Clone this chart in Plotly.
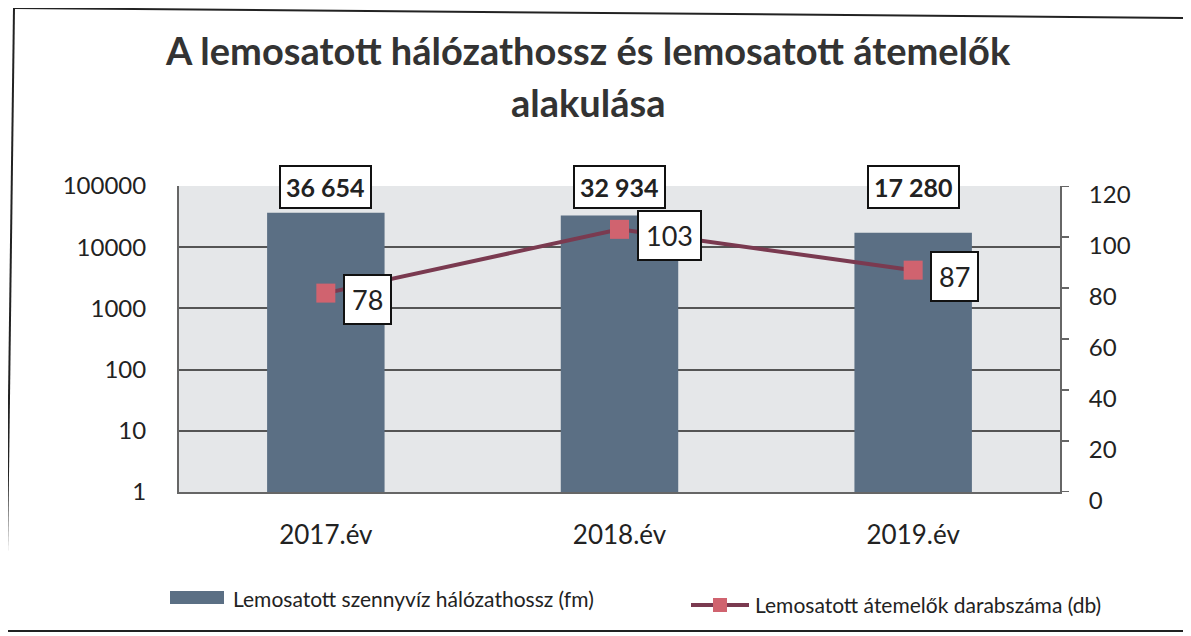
import plotly.graph_objects as go

categories = ["2017.év", "2018.év", "2019.év"]
network_length = [36654, 32934, 17280]          # Lemosatott szennyvíz hálózathossz (fm)
network_labels = ["36 654", "32 934", "17 280"]
pump_count = [78, 103, 87]                       # Lemosatott átemelők darabszáma (db)
left_ticks = [1, 10, 100, 1000, 10000, 100000]
right_ticks = [0, 20, 40, 60, 80, 100, 120]

title_line1 = "A lemosatott hálózathossz és lemosatott átemelők"
title_line2 = "alakulása"
legend_bar = "Lemosatott szennyvíz hálózathossz (fm)"
legend_line = "Lemosatott átemelők darabszáma (db)"

OFF = 8  # page body margin
W, H = 1191 - OFF, 636 - OFF
SL, SR, ST, SB = 179, 1060, 186, 492
L, R, T, B = SL - OFF, SR - OFF, ST - OFF, SB - OFF
PW, PH = R - L, B - T


def px(x):  # screen x -> paper
    return (x - SL) / PW


def py(y):  # screen y -> paper
    return (SB - y) / PH


BAR_COLOR = "#5b6f84"
LINE_COLOR = "#7a3a50"
MARKER_COLOR = "#d0636f"
AXIS_COLOR = "#666666"
FONT = "Lato"
TXT = "#222222"

fig = go.Figure()
fig.add_trace(go.Bar(
    x=categories, y=network_length, name=legend_bar,
    marker=dict(color=BAR_COLOR, line=dict(width=0)),
    yaxis="y", showlegend=False,
))
fig.add_trace(go.Scatter(
    x=categories, y=pump_count, name=legend_line, mode="lines+markers",
    line=dict(color=LINE_COLOR, width=4),
    marker=dict(symbol="square", size=19, color=MARKER_COLOR),
    yaxis="y2", showlegend=False,
))

annotations = []
for c, lab in zip(categories, network_labels):
    annotations.append(dict(
        x=c, xref="x", y=py(187), yref="paper", text=f"<b>{lab}</b>",
        showarrow=False, font=dict(family=FONT, size=25, color=TXT),
        bgcolor="white", bordercolor="#111111", borderwidth=2, borderpad=5,
        xanchor="center", yanchor="middle",
    ))
for c, v in zip(categories, pump_count):
    annotations.append(dict(
        x=c, xref="x", y=v, yref="y2", text=str(v),
        showarrow=False, font=dict(family=FONT, size=27, color=TXT),
        bgcolor="white", bordercolor="#111111", borderwidth=2, borderpad=7,
        xanchor="left", yanchor="middle", xshift=17, yshift=-6,
    ))
annotations.append(dict(
    x=px(588), y=py(50), xref="paper", yref="paper", text=f"<b>{title_line1}</b>",
    showarrow=False, font=dict(family=FONT, size=38, color="#333333"),
    xanchor="center", yanchor="middle",
))
annotations.append(dict(
    x=px(588), y=py(102), xref="paper", yref="paper", text=f"<b>{title_line2}</b>",
    showarrow=False, font=dict(family=FONT, size=38, color="#333333"),
    xanchor="center", yanchor="middle",
))
annotations.append(dict(
    x=px(231), y=py(598), xref="paper", yref="paper", text=legend_bar,
    showarrow=False, font=dict(family=FONT, size=21, color=TXT),
    xanchor="left", yanchor="middle",
))
annotations.append(dict(
    x=px(753), y=py(604), xref="paper", yref="paper", text=legend_line,
    showarrow=False, font=dict(family=FONT, size=21, color=TXT),
    xanchor="left", yanchor="middle",
))

BORDER = dict(color="#222222", width=2)
shapes = [
    dict(type="line", xref="paper", yref="paper", x0=px(14), x1=px(1195),
         y0=py(8), y1=py(18), line=BORDER),
    dict(type="line", xref="paper", yref="paper", x0=px(14), x1=px(6),
         y0=py(8), y1=py(631), line=BORDER),
    dict(type="line", xref="paper", yref="paper", x0=px(6), x1=px(1195),
         y0=py(631), y1=py(631), line=BORDER),
    dict(type="rect", xref="paper", yref="paper", x0=px(170), x1=px(224),
         y0=py(604), y1=py(591), fillcolor=BAR_COLOR, line=dict(width=0)),
    dict(type="line", xref="paper", yref="paper", x0=px(691), x1=px(749),
         y0=py(605), y1=py(605), line=dict(color=LINE_COLOR, width=4)),
    dict(type="rect", xref="paper", yref="paper", x0=px(713), x1=px(727),
         y0=py(612), y1=py(598), fillcolor=MARKER_COLOR, line=dict(width=0)),
]
for t in right_ticks:
    shapes.append(dict(type="line", xref="paper", yref="y2", x0=1, x1=px(SR + 9),
                       y0=t, y1=t, line=dict(color=AXIS_COLOR, width=2)))

fig.update_layout(
    width=W, height=H,
    margin=dict(l=L, r=W - R, t=T, b=H - B, pad=0, autoexpand=False),
    paper_bgcolor="white",
    plot_bgcolor="#e5e7e9",
    bargap=0.6,
    showlegend=False,
    font=dict(family=FONT, color=TXT),
    xaxis=dict(
        type="category", showgrid=False, showline=True, linecolor=AXIS_COLOR, linewidth=2,
        ticks="", tickfont=dict(family=FONT, size=26, color=TXT), ticklabelstandoff=19,
        automargin=False,
    ),
    yaxis=dict(
        type="log", range=[0, 5], tickvals=left_ticks, ticktext=[str(t) for t in left_ticks],
        showgrid=True, gridcolor="#555555", gridwidth=2,
        showline=True, linecolor=AXIS_COLOR, linewidth=2,
        tickfont=dict(family=FONT, size=24, color=TXT), ticks="", ticklabelstandoff=26,
        zeroline=False, automargin=False,
    ),
    yaxis2=dict(
        overlaying="y", side="right", range=[0, 120], tickvals=right_ticks,
        showgrid=False, showline=True, linecolor=AXIS_COLOR, linewidth=2,
        ticks="", tickfont=dict(family=FONT, size=24, color=TXT), ticklabelstandoff=22,
        ticklabelshift=9, zeroline=False, automargin=False,
    ),
    annotations=annotations,
    shapes=shapes,
)

fig.write_html("out.html")
